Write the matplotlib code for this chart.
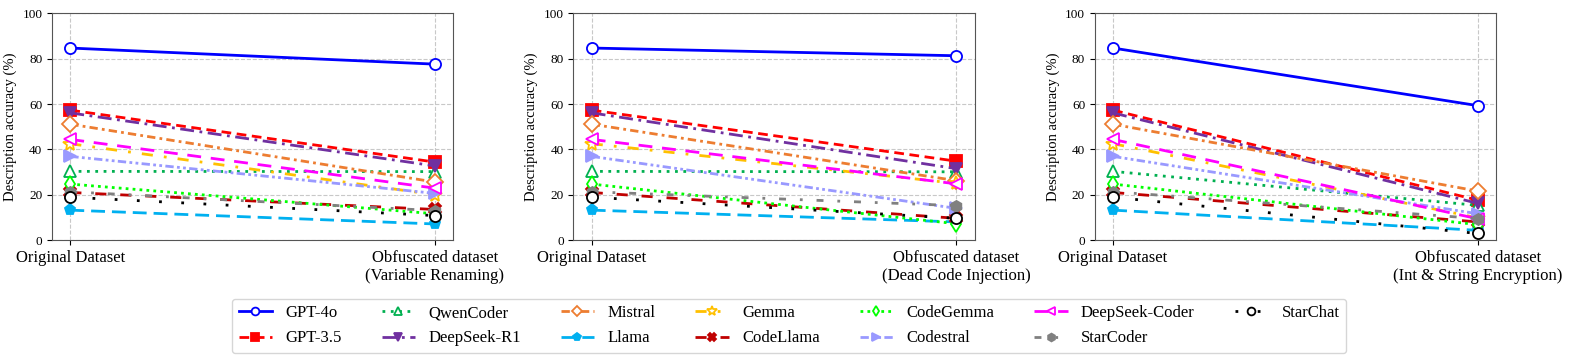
import numpy as np
import matplotlib
matplotlib.use("Agg")
import matplotlib.pyplot as plt

plt.rcParams["font.family"] = ["Liberation Serif", "DejaVu Serif"]

# ---- data ----
models = ["GPT-4o", "GPT-3.5", "QwenCoder", "DeepSeek-R1", "Mistral", "Llama",
          "Gemma", "CodeLlama", "CodeGemma", "Codestral", "DeepSeek-Coder",
          "StarCoder", "StarChat"]
original = [84.7, 57.3, 30.3, 56.1, 51.1, 13.2, 42.5, 21.0, 24.7, 36.9, 44.4, 21.3, 18.9]
renaming = [77.6, 34.4, 30.2, 32.7, 25.6, 7.1, 20.0, 13.5, 11.6, 20.6, 22.9, 13.0, 10.8]
deadcode = [81.3, 34.8, 30.1, 31.5, 26.2, 8.0, 25.0, 9.6, 7.2, 14.0, 24.8, 15.2, 9.6]
encrypt = [59.3, 17.6, 15.3, 16.2, 21.6, 4.3, 9.8, 8.0, 6.8, 11.6, 9.4, 9.5, 2.9]
right_labels = ["Obfuscated dataset\n(Variable Renaming)",
                "Obfuscated dataset\n(Dead Code Injection)",
                "Obfuscated dataset\n(Int & String Encryption)"]
x_labels = ["Original Dataset"]

# ---- styles: color, linestyle, marker, filled ----
styles = {
    "GPT-4o":         ("#0000ff", "-", "o", False),
    "GPT-3.5":        ("#ff0000", (0, (3.5, 2)), "s", True),
    "QwenCoder":      ("#00b050", (0, (1, 2)), "^", False),
    "DeepSeek-R1":    ("#7030a0", (0, (5, 2, 1, 2)), "v", True),
    "Mistral":        ("#ed7d31", (0, (3, 1.5, 1, 1.5)), "D", False),
    "Llama":          ("#00b0f0", (0, (5, 2.5)), "p", True),
    "Gemma":          ("#ffc000", (0, (4, 4, 1, 4)), "*", False),
    "CodeLlama":      ("#c00000", (0, (4, 5)), "X", True),
    "CodeGemma":      ("#00ff00", (0, (1, 1.5)), "d", False),
    "Codestral":      ("#9999ff", (0, (3, 1.2, 1, 1.2, 1, 1.2)), ">", True),
    "DeepSeek-Coder": ("#ff00ff", (0, (5, 3.5)), "<", False),
    "StarCoder":      ("#808080", (0, (2.5, 5, 1, 5)), "h", True),
    "StarChat":       ("#000000", (0, (1, 7)), "o", False),
}

fig, axes = plt.subplots(1, 3, figsize=(15.78, 3.61), dpi=100)
fig.subplots_adjust(left=0.033, right=0.948, top=0.963, bottom=0.335, wspace=0.3)

for ax, vals, lab in zip(axes, [renaming, deadcode, encrypt], right_labels):
    for i, m in enumerate(models):
        c, ls, mk, filled = styles[m]
        ax.plot([0, 1], [original[i], vals[i]], color=c, linestyle=ls, linewidth=2.0,
                marker=mk, markersize=8 if mk != "*" else 10,
                markerfacecolor=c if filled else "white", markeredgecolor=c,
                markeredgewidth=1.3, label=m, zorder=3)
    ax.set_ylim(0, 100)
    ax.set_yticks([0, 20, 40, 60, 80, 100])
    ax.set_xticks([0, 1])
    ax.set_xticklabels([x_labels[0], lab], fontsize=12)
    ax.tick_params(axis="y", labelsize=9.5)
    ax.set_ylabel("Description accuracy (%)", fontsize=10.5)
    ax.grid(True, linestyle="--", color="#c8c8c8", linewidth=0.8)
    ax.set_axisbelow(True)
    for s in ax.spines.values():
        s.set_color("#555555")

handles, labels = axes[0].get_legend_handles_labels()
fig.legend(handles, labels, loc="lower center", ncol=7, fontsize=12,
           bbox_to_anchor=(0.5, 0.022), borderaxespad=0, frameon=True,
           edgecolor="#cccccc", columnspacing=2.4, handlelength=2.0,
           handletextpad=0.8, labelspacing=0.55, markerscale=0.7)

fig.savefig("out.png", dpi=100)
